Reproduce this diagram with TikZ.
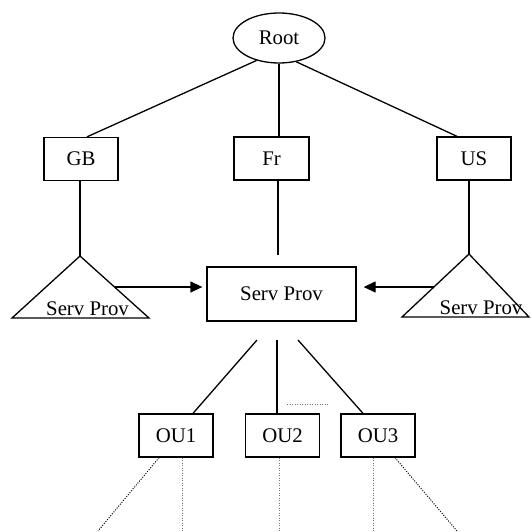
\documentclass[tikz,border=0pt]{standalone}
\usepackage{fontspec}
\setmainfont{Liberation Serif}
\usetikzlibrary{shapes.geometric,arrows.meta,calc}
\begin{document}
\begin{tikzpicture}[x=1pt,y=-1pt,
  every node/.style={font=\fontsize{20.8}{24}\selectfont, inner sep=0pt},
  link/.style={line width=1.3pt},
  box/.style={draw, link, minimum width=74pt, minimum height=43pt},
  dots/.style={line width=1pt, dash pattern=on 1pt off 1.5pt},
  faint/.style={dots, black!55},
  feed/.style={link, -{Triangle[length=12pt,width=11pt]}}]
\useasboundingbox (0,0) rectangle (530,532);

% hierarchy nodes
\node[draw, link, ellipse, minimum width=92pt, minimum height=50pt] (root) at (279,38) {Root};
\node[box] (gb) at (81,159) {GB};
\node[box, minimum width=75pt] (fr) at (271.5,158.5) {Fr};
\node[box] (us) at (474,158.5) {US};
\node[box, minimum width=149pt, minimum height=54pt] (sp) at (281.5,294) {Serv Prov};
\node[box] (ou1) at (176,435.5) {OU1};
\node[box] (ou2) at (282.5,435.5) {OU2};
\node[box] (ou3) at (378,435.5) {OU3};

% triangles for the national service providers
\coordinate (lt-top) at (80,256);
\coordinate (lt-left) at (12,318);
\coordinate (lt-right) at (149,318);
\draw[link] (lt-top) -- (lt-right) -- (lt-left) -- cycle;
\node[anchor=base] (lt-text) at (87.5,315) {Serv Prov};

\coordinate (rt-top) at (469,254);
\coordinate (rt-left) at (402,317);
\coordinate (rt-right) at (529,317);
\draw[link] (rt-top) -- (rt-right) -- (rt-left) -- cycle;
\node[anchor=base] (rt-text) at (481,314) {Serv Prov};

% root to countries
\draw[link] (root.225) -- ([xshift=6pt]gb.north);
\draw[link] (root.south) -- (root.south |- fr.north);
\draw[link] (root.306) -- ([xshift=-17pt]us.north);

% countries downwards
\draw[link] (gb.south -| lt-top) -- (lt-top);
\coordinate (fr-tail) at (278,255);
\draw[link] (fr.south -| fr-tail) -- (fr-tail);
\draw[link] (us.south -| rt-top) -- (rt-top);

% feeds into the central service provider
\coordinate (lt-mid) at ($(lt-top)!0.5!(lt-right)$);
\coordinate (rt-mid) at ($(rt-top)!0.524!(rt-left)$);
\draw[feed, shorten >=4pt] (lt-mid) -- (lt-mid -| sp.west);
\draw[feed, shorten >=7pt] (rt-mid) -- (rt-mid -| sp.east);

% service provider to organisational units
\coordinate (sp-l) at (257,340);
\coordinate (sp-m) at (277,340);
\coordinate (sp-r) at (298,340);
\draw[link] (sp-l) -- ([xshift=17pt]ou1.north);
\draw[link] (sp-m) -- (sp-m |- ou2.north);
\draw[link] (sp-r) -- ([xshift=-15pt]ou3.north);

\coordinate (h-a) at (287,404);
\coordinate (h-b) at (329,404);
\draw[faint, line width=0.8pt] (h-a) -- (h-b);

% dotted continuations below the units
\coordinate (e1) at (98,531);
\coordinate (e2) at (182,532);
\coordinate (e3) at (279,532);
\coordinate (e4) at (373,532);
\coordinate (e5) at (457,531);
\draw[dots] ([xshift=-17pt]ou1.south) -- (e1);
\draw[faint] (ou1.south -| e2) -- (e2);
\draw[faint] (ou2.south -| e3) -- (e3);
\draw[faint] (ou3.south -| e4) -- (e4);
\draw[dots] ([xshift=17pt]ou3.south) -- (e5);
\end{tikzpicture}
\end{document}
